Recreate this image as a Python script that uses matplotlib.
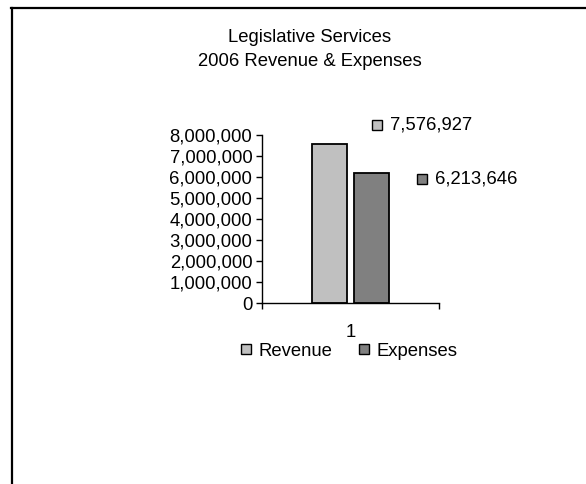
import matplotlib
matplotlib.use('Agg')
import matplotlib.pyplot as plt
import matplotlib.transforms as mtransforms
from matplotlib.lines import Line2D
from matplotlib.ticker import FuncFormatter

# ------------------------- #
# Dados
# ------------------------- #

series = ['Revenue', 'Expenses']
values = [7576927, 6213646]
colors = ['#C0C0C0', '#808080']
category = ['1']
title_lines = ['Legislative Services', '2006 Revenue & Expenses']

W, H = 586, 484
DPI = 100
plt.rcParams['font.family'] = ['Liberation Sans', 'DejaVu Sans']
FS = 13.3

fig = plt.figure(figsize=(W / DPI, H / DPI), dpi=DPI)

# moldura (só topo e esquerda visíveis)
fig.add_artist(Line2D([11 / W, 1.0], [1 - 7.5 / H, 1 - 7.5 / H],
                      transform=fig.transFigure, color='black', lw=1.6))
fig.add_artist(Line2D([11.5 / W, 11.5 / W], [0.0, 1 - 7.5 / H],
                      transform=fig.transFigure, color='black', lw=1.6))

for txt, ypx in zip(title_lines, [37, 62]):
    fig.text(310 / W, 1 - ypx / H, txt, ha='center', va='center', fontsize=FS)

ax = fig.add_axes([262 / W, 1 - 303 / H, 177 / W, 168 / H])

offsets = [-0.117, 0.117]
width = 0.2
for off, v, c in zip(offsets, values, colors):
    ax.bar(off, v, width=width, color=c, edgecolor='black', linewidth=1.3)

ax.set_xlim(-0.5, 0.5)
ax.set_ylim(0, 8000000)
ax.set_yticks(range(0, 8000001, 1000000))
ax.yaxis.set_major_formatter(FuncFormatter(lambda v, p: f'{int(v):,}'))
ax.set_xticks([0])
ax.set_xticklabels(category)
ax.set_xticks([-0.5, 0.5], minor=True)
ax.tick_params(axis='x', which='major', length=0, pad=15, labelsize=FS)
ax.tick_params(axis='x', which='minor', length=4, direction='out', width=1)
ax.tick_params(axis='y', length=4, direction='out', width=1, pad=3, labelsize=FS)
for s in ['top', 'right']:
    ax.spines[s].set_visible(False)
ax.spines['left'].set_linewidth(1)
ax.spines['bottom'].set_linewidth(1)

# rótulos de dados com chave da legenda
label_offsets = [(42, 19), (46, -6.5)]  # pixels (dx a partir do centro, dy a partir do topo)
for off, v, c, (dx, dy) in zip(offsets, values, colors, label_offsets):
    tr_m = mtransforms.offset_copy(ax.transData, fig=fig, x=(dx + 5) * 72 / DPI,
                                   y=dy * 72 / DPI, units='points')
    ax.plot([off], [v], marker='s', markersize=7, markerfacecolor=c,
            markeredgecolor='black', markeredgewidth=1, transform=tr_m, clip_on=False)
    tr_t = mtransforms.offset_copy(ax.transData, fig=fig, x=(dx + 18) * 72 / DPI,
                                   y=dy * 72 / DPI, units='points')
    ax.text(off, v, f'{v:,}', transform=tr_t, ha='left', va='center',
            fontsize=FS, clip_on=False)

handles = [Line2D([], [], linestyle='none', marker='s', markersize=7,
                  markerfacecolor=c, markeredgecolor='black', markeredgewidth=1)
           for c in colors]
fig.legend(handles, series, loc='center', bbox_to_anchor=(349 / W, 1 - 351 / H),
           ncol=2, frameon=False, fontsize=FS, handlelength=0.6,
           handletextpad=0.4, columnspacing=1.4)

fig.savefig('out.png', dpi=DPI, facecolor='white')
